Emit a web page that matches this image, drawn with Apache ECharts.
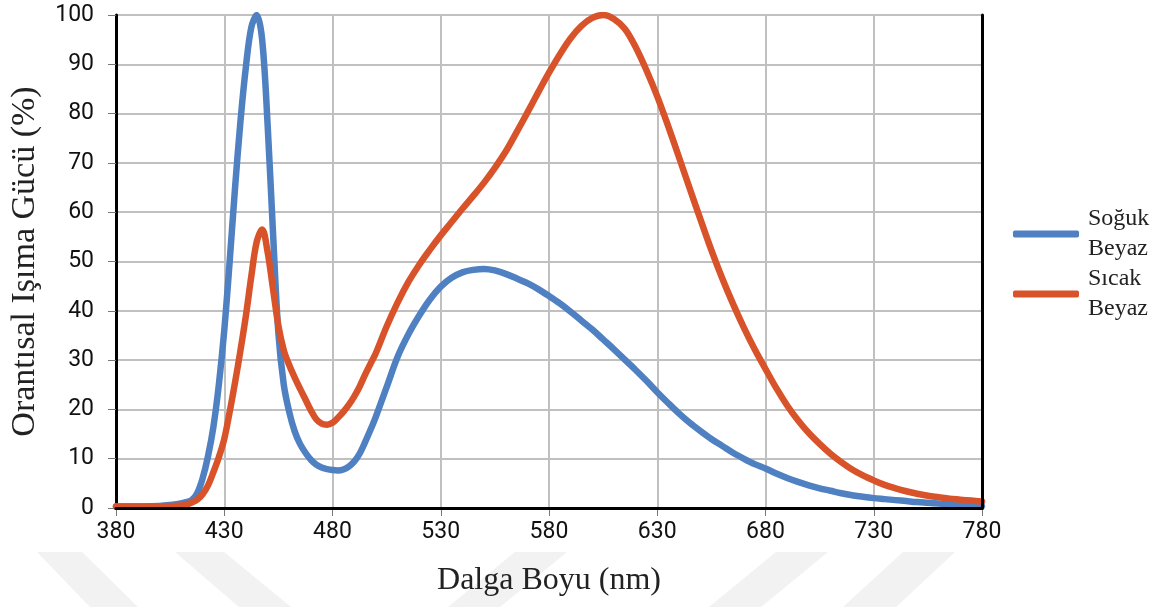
<!DOCTYPE html>
<html>
<head>
<meta charset="utf-8">
<script src="https://cdn.jsdelivr.net/npm/echarts@6/dist/echarts.min.js"></script>
<style>html,body{margin:0;padding:0;background:#fff}#c{width:1163px;height:607px}</style>
</head>
<body>
<div id="c"></div>
<script>
// Wavelengths (nm) shared by both series
const wavelengths = [380,385,390,395,400,405,410,
  412.5,415,417.5,420,422.5,425,427.5,430,432.5,435,437.5,440,442.5,445,447.5,450,452.5,455,457.5,460,462.5,465,467.5,470,472.5,475,477.5,480,482.5,485,487.5,490,492.5,495,497.5,500,
  505,510,515,520,525,530,535,540,545,550,555,560,565,570,575,580,585,590,595,600,605,610,615,620,625,630,635,640,645,650,655,660,665,670,675,680,685,690,695,700,705,710,715,720,725,730,735,740,745,750,755,760,765,770,775,780];
// Soğuk Beyaz (cool white) relative power, %
const coolWhite = [0.3,0.3,0.3,0.35,0.4,0.6,0.9,
  1.2,1.6,3,6,10.5,16.5,25,36,50,65,78.5,89.5,97.5,100,95,78,56,35.5,25,19.5,15.6,13,11.2,9.8,8.8,8.2,7.9,7.7,7.6,7.8,8.4,9.4,11,13.3,15.8,18.5,
  24.5,30.6,35.2,39,42.3,44.9,46.7,47.8,48.3,48.5,48.2,47.5,46.6,45.6,44.4,43,41.5,39.8,38,36.2,34.2,32.2,30.1,28,25.8,23.5,21.3,19.2,17.3,15.6,14,12.6,11.2,10,8.9,8,7,6.1,5.3,4.6,4,3.5,3,2.6,2.3,2,1.8,1.6,1.4,1.2,1.05,0.9,0.75,0.6,0.5,0.4];
// Sıcak Beyaz (warm white) relative power, %
const warmWhite = [0.3,0.3,0.3,0.3,0.3,0.4,0.5,
  0.7,1.1,1.7,2.8,4.6,7.3,10.3,14,19.5,25.5,32,39,47,54,56.5,52,44.5,37,32,29,26.5,24.2,22,19.8,18,17.1,16.9,17.3,18.3,19.5,20.9,22.6,24.6,27,29.2,31.4,
  36.8,41.6,45.8,49.3,52.4,55.3,58,60.7,63.3,66,69,72.3,76.2,80.2,84.3,88.3,92,95.3,97.8,99.4,100,99.2,97.2,93.5,88.8,83.5,77.5,71.2,64.8,58.5,52.3,46.6,41.4,36.6,32.2,28.2,24.3,20.8,17.8,15.2,13,11,9.3,7.8,6.6,5.6,4.7,4,3.4,2.9,2.5,2.2,1.9,1.7,1.5,1.3];
const xTicks = [380,430,480,530,580,630,680,730,780];
const seriesNames = ['Soğuk\nBeyaz','Sıcak\nBeyaz'];

const zip = (xs, ys) => xs.map((x, i) => [x, ys[i]]);
const chart = echarts.init(document.getElementById('c'), null, {renderer:'canvas'});
const serif = '"Liberation Serif","Times New Roman",serif';
const sans = 'Roboto, "Liberation Sans", Arial, sans-serif';
const stripe = (pts) => ({type:'polygon', silent:true, z:-10, shape:{points:pts}, style:{fill:'#f2f2f2'}});

chart.setOption({
  animation:false,
  backgroundColor:'#fff',
  graphic:[
    stripe([[37,552],[82,552],[138,607],[90,607]]),
    stripe([[175,552],[224,552],[291,607],[239,607]]),
    stripe([[515,552],[567,552],[500,607],[448,607]]),
    stripe([[776,552],[828,552],[761,607],[709,607]]),
    stripe([[903,552],[955,552],[896,607],[843,607]])
  ],
  grid:{left:116, right:181, top:15, bottom:99, containLabel:false},
  legend:{
    orient:'vertical', left:1013, top:204, padding:0, itemGap:0,
    itemWidth:66, itemHeight:7, icon:'roundRect',
    textStyle:{fontFamily:serif, fontSize:24, color:'#222', lineHeight:30, padding:[0,0,0,4]},
    data:seriesNames
  },
  xAxis:[{
    type:'value', min:380, max:780, interval:50,
    name:'Dalga Boyu (nm)', nameLocation:'middle', nameGap:57,
    nameTextStyle:{fontFamily:serif, fontSize:32, color:'#222'},
    axisLine:{show:true, onZero:false, lineStyle:{color:'#000', width:3}},
    axisTick:{show:true, length:8, lineStyle:{color:'#777', width:1}},
    axisLabel:{fontFamily:sans, fontSize:23, color:'#111', margin:13,
      formatter:(v)=> xTicks.includes(v) ? String(v) : ''},
    splitLine:{show:true, lineStyle:{color:'#c0c0c0', width:2}}
  },{
    type:'value', min:380, max:780, position:'top', z:5,
    axisLine:{show:true, lineStyle:{color:'#000', width:3}},
    axisTick:{show:false}, axisLabel:{show:false}, splitLine:{show:false}
  }],
  yAxis:[{
    type:'value', min:0, max:100, interval:10,
    name:'Orantısal Işıma Gücü (%)', nameLocation:'middle', nameGap:74,
    nameTextStyle:{fontFamily:serif, fontSize:34, color:'#222'},
    axisLine:{show:true, onZero:false, lineStyle:{color:'#000', width:3}},
    axisTick:{show:true, length:8, lineStyle:{color:'#777', width:1}},
    axisLabel:{fontFamily:sans, fontSize:23, color:'#111', margin:22},
    splitLine:{show:true, lineStyle:{color:'#c0c0c0', width:2}}
  },{
    type:'value', min:0, max:100, position:'right', z:5,
    axisLine:{show:true, lineStyle:{color:'#000', width:3}},
    axisTick:{show:false}, axisLabel:{show:false}, splitLine:{show:false}
  }],
  series:[
    {name:seriesNames[0], type:'line', data:zip(wavelengths, coolWhite), smooth:0.35, showSymbol:false,
     lineStyle:{color:'#4E80C2', width:6.5, cap:'round', join:'round'}, itemStyle:{color:'#4E80C2'}},
    {name:seriesNames[1], type:'line', data:zip(wavelengths, warmWhite), smooth:0.35, showSymbol:false,
     lineStyle:{color:'#D9532A', width:6.5, cap:'round', join:'round'}, itemStyle:{color:'#D9532A'}}
  ]
});
</script>
</body>
</html>
